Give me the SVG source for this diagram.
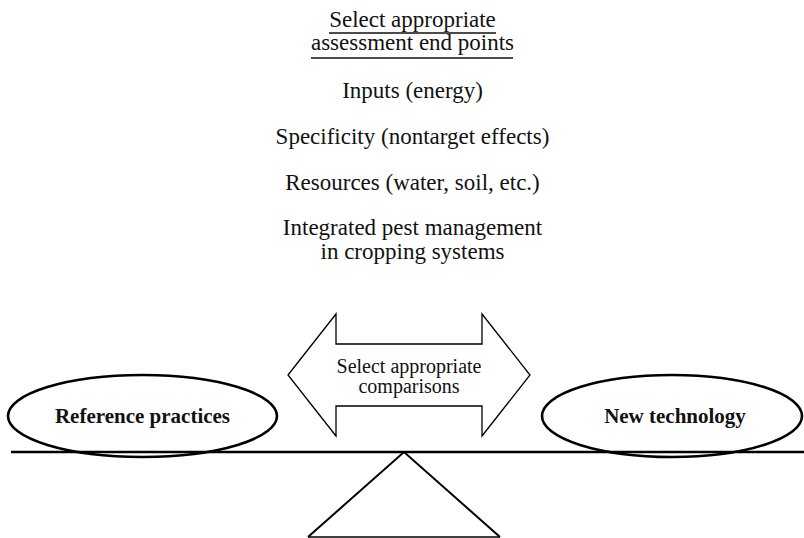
<svg xmlns="http://www.w3.org/2000/svg" width="804" height="538" viewBox="0 0 804 538">
<style>
.t{font-family:"Liberation Serif","Times New Roman",serif;font-size:23px;fill:#111;text-anchor:middle}
.c{font-family:"Liberation Serif","Times New Roman",serif;font-size:20px;fill:#111;text-anchor:middle}
.b{font-family:"Liberation Serif","Times New Roman",serif;font-size:21px;font-weight:bold;fill:#111;text-anchor:middle}
.ul{stroke:#111;stroke-width:1.3}
.ell{fill:#fff;stroke:#000;stroke-width:2.6}
.arr{fill:#fff;stroke:#000;stroke-width:1.3;stroke-linejoin:miter}
.beam{stroke:#000;stroke-width:2.6}
.ful{fill:none;stroke:#000;stroke-width:2}
</style>
<rect width="804" height="538" fill="#fff"/>
<g id="endpoints">
<text class="t" x="412.5" y="27">Select appropriate</text>
<line class="ul" x1="329" y1="33" x2="496" y2="33"/>
<text class="t" x="412.5" y="50">assessment end points</text>
<line class="ul" x1="311" y1="58" x2="513" y2="58"/>
<text class="t" x="412.5" y="98">Inputs (energy)</text>
<text class="t" x="412.5" y="144">Specificity (nontarget effects)</text>
<text class="t" x="412.5" y="190">Resources (water, soil, etc.)</text>
<text class="t" x="412.5" y="235">Integrated pest management</text>
<text class="t" x="412.5" y="259">in cropping systems</text>
</g>
<g id="comparisons">
<polygon class="arr" points="288,375 336,314 336,344 482,344 482,314 530,375 482,436 482,406 336,406 336,436"/>
<text class="c" x="409" y="373">Select appropriate</text>
<text class="c" x="409" y="393">comparisons</text>
</g>
<g id="reference">
<ellipse class="ell" cx="142.5" cy="416" rx="134.5" ry="41"/>
<text class="b" x="142.5" y="423">Reference practices</text>
</g>
<g id="newtech">
<ellipse class="ell" cx="672" cy="416" rx="130" ry="41"/>
<text class="b" x="675" y="423">New technology</text>
</g>
<g id="connectors">
<line class="beam" x1="11" y1="452" x2="804" y2="452"/>
<polyline class="ful" points="308,537 404,452 500,537"/>
<line x1="308" y1="537" x2="500" y2="537" stroke="#000" stroke-width="1.5"/>
</g>
</svg>
